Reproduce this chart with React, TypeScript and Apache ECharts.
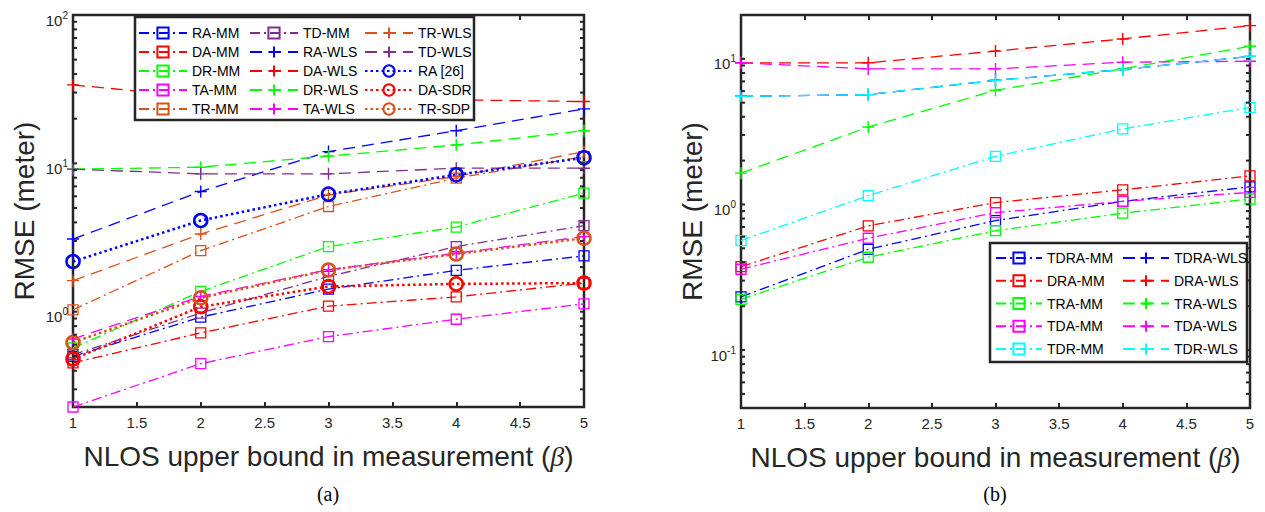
import React, { useEffect, useRef } from 'react';
import * as echarts from 'echarts';

// ---------- data ----------
const BETA = [1, 2, 3, 4, 5];

// (a)
const RA_MM = [0.5, 0.92, 1.42, 1.9, 2.38];
const DA_MM = [0.452, 0.72, 1.09, 1.26, 1.56];
const DR_MM = [0.57, 1.37, 2.75, 3.72, 6.3];
const TA_MM = [0.228, 0.447, 0.68, 0.89, 1.13];
const TR_MM = [1.03, 2.58, 5.12, 7.95, 11.1];
const TD_MM = [0.513, 0.98, 1.73, 2.75, 3.8];
const RA_WLS = [3.09, 6.46, 12.0, 16.6, 23.3];
const DA_WLS = [33.8, 28.0, 27.2, 26.8, 26.1];
const DR_WLS = [9.14, 9.42, 11.2, 13.3, 16.6];
const TA_WLS = [0.655, 1.27, 1.92, 2.48, 3.21];
const TR_WLS = [1.62, 3.34, 6.13, 8.15, 12.0];
const TD_WLS = [9.14, 8.5, 8.5, 9.28, 9.28];
const RA_26 = [2.18, 4.12, 6.2, 8.37, 10.9];
const DA_SDR = [0.48, 1.08, 1.48, 1.54, 1.56];
const TR_SDP = [0.621, 1.24, 1.91, 2.45, 3.13];

// (b)
const TDRA_MM = [0.232, 0.492, 0.775, 1.05, 1.32];
const DRA_MM = [0.374, 0.713, 1.03, 1.26, 1.57];
const TRA_MM = [0.223, 0.434, 0.66, 0.871, 1.09];
const TDA_MM = [0.359, 0.586, 0.879, 1.05, 1.21];
const TDR_MM = [0.565, 1.15, 2.14, 3.3, 4.64];
const TDRA_WLS = [5.53, 5.68, 7.12, 8.44, 10.4];
const DRA_WLS = [9.39, 9.39, 11.3, 13.7, 16.9];
const TRA_WLS = [1.64, 3.4, 6.08, 8.53, 12.2];
const TDA_WLS = [9.39, 8.53, 8.53, 9.48, 9.63];
const TDR_WLS = [5.53, 5.68, 7.12, 8.44, 10.4];

// axes
const X_MIN = 1;
const X_MAX = 5;
const X_STEP = 0.5;
const Y_MIN_A = 0.228;
const Y_MAX_A = 100;
const Y_MIN_B = 0.04;
const Y_MAX_B = 20;
const Y_TICKS_A = [0.3, 0.4, 0.5, 0.6, 0.7, 0.8, 0.9, 1, 2, 3, 4, 5, 6, 7, 8, 9, 10, 20, 30, 40, 50, 60, 70, 80, 90, 100];
const Y_TICKS_B = [0.05, 0.06, 0.07, 0.08, 0.09, 0.1, 0.2, 0.3, 0.4, 0.5, 0.6, 0.7, 0.8, 0.9, 1, 2, 3, 4, 5, 6, 7, 8, 9, 10];

// legend columns
const LEG_A1 = ['RA-MM', 'DA-MM', 'DR-MM', 'TA-MM', 'TR-MM'];
const LEG_A2 = ['TD-MM', 'RA-WLS', 'DA-WLS', 'DR-WLS', 'TA-WLS'];
const LEG_A3 = ['TR-WLS', 'TD-WLS', 'RA [26]', 'DA-SDR', 'TR-SDP'];
const LEG_B1 = ['TDRA-MM', 'DRA-MM', 'TRA-MM', 'TDA-MM', 'TDR-MM'];
const LEG_B2 = ['TDRA-WLS', 'DRA-WLS', 'TRA-WLS', 'TDA-WLS', 'TDR-WLS'];

const BLUE = '#0000FF';
const RED = '#FF0000';
const GREEN = '#00FF00';
const MAGENTA = '#FF00FF';
const ORANGE = '#D95319';
const PURPLE = '#7E2F8E';
const CYAN = '#00FFFF';

type Kind = 'mm' | 'wls' | 'sdp';

const SERIES_A: [string, number[], string, Kind][] = [
  ['RA-MM', RA_MM, BLUE, 'mm'],
  ['DA-MM', DA_MM, RED, 'mm'],
  ['DR-MM', DR_MM, GREEN, 'mm'],
  ['TA-MM', TA_MM, MAGENTA, 'mm'],
  ['TR-MM', TR_MM, ORANGE, 'mm'],
  ['TD-MM', TD_MM, PURPLE, 'mm'],
  ['RA-WLS', RA_WLS, BLUE, 'wls'],
  ['DA-WLS', DA_WLS, RED, 'wls'],
  ['DR-WLS', DR_WLS, GREEN, 'wls'],
  ['TA-WLS', TA_WLS, MAGENTA, 'wls'],
  ['TR-WLS', TR_WLS, ORANGE, 'wls'],
  ['TD-WLS', TD_WLS, PURPLE, 'wls'],
  ['RA [26]', RA_26, BLUE, 'sdp'],
  ['DA-SDR', DA_SDR, RED, 'sdp'],
  ['TR-SDP', TR_SDP, ORANGE, 'sdp'],
];

const SERIES_B: [string, number[], string, Kind][] = [
  ['TDRA-MM', TDRA_MM, BLUE, 'mm'],
  ['DRA-MM', DRA_MM, RED, 'mm'],
  ['TRA-MM', TRA_MM, GREEN, 'mm'],
  ['TDA-MM', TDA_MM, MAGENTA, 'mm'],
  ['TDR-MM', TDR_MM, CYAN, 'mm'],
  ['TDRA-WLS', TDRA_WLS, BLUE, 'wls'],
  ['DRA-WLS', DRA_WLS, RED, 'wls'],
  ['TRA-WLS', TRA_WLS, GREEN, 'wls'],
  ['TDA-WLS', TDA_WLS, MAGENTA, 'wls'],
  ['TDR-WLS', TDR_WLS, CYAN, 'wls'],
];

// ---------- styles ----------
const AX = '#262626';
const FONT = '"Liberation Sans", Arial, Helvetica, sans-serif';
const PLUS = 'path://M5,0 L5,10 M0,5 L10,5';

const KIND_STYLE: Record<Kind, any> = {
  mm: { symbol: 'rect', size: 10, dash: [10, 4, 2, 4], width: 1.3, bw: 1.3 },
  wls: { symbol: PLUS, size: 12, dash: [12, 7], width: 1.3, bw: 1.4 },
  sdp: { symbol: 'circle', size: 13, dash: [2.5, 3], width: 2.5, bw: 2.5 },
};

function makeSeries(spec: [string, number[], string, Kind], gridIdx: number) {
  const [name, vals, color, kind] = spec;
  const k = KIND_STYLE[kind];
  return {
    name,
    type: 'line',
    xAxisIndex: gridIdx * 2,
    yAxisIndex: gridIdx,
    data: BETA.map((b, i) => [b, vals[i]]),
    symbol: k.symbol,
    symbolSize: k.size,
    showSymbol: true,
    showAllSymbol: true,
    lineStyle: { color, width: k.width, type: k.dash, cap: 'butt' },
    itemStyle: { color: 'rgba(0,0,0,0)', borderColor: color, borderWidth: k.bw },
    emphasis: { disabled: true },
    silent: true,
    z: 2,
    clip: false,
  };
}

function isPow10(v: number) {
  const l = Math.log10(v);
  return Math.abs(l - Math.round(l)) < 1e-9;
}

function tickSeries(gridIdx: number, ticks: number[]) {
  return {
    type: 'custom',
    xAxisIndex: gridIdx * 2,
    yAxisIndex: gridIdx,
    silent: true,
    clip: false,
    z: 3,
    data: ticks.map((t) => [X_MIN, t]),
    encode: { x: 0, y: 1 },
    renderItem: (_params: any, api: any) => {
      const v = api.value(1);
      const l = api.coord([X_MIN, v]);
      const r = api.coord([X_MAX, v]);
      const len = 4;
      const children: any[] = [
        { type: 'line', shape: { x1: l[0], y1: l[1], x2: l[0] + len, y2: l[1] }, style: { stroke: AX, lineWidth: 2 } },
        { type: 'line', shape: { x1: r[0] - len, y1: r[1], x2: r[0], y2: r[1] }, style: { stroke: AX, lineWidth: 2 } },
      ];
      if (isPow10(v)) {
        const e = Math.round(Math.log10(v));
        children.push({
          type: 'text',
          x: l[0] - 5,
          y: l[1],
          style: {
            text: `{b|10}{s|${e}}`,
            fill: AX,
            align: 'right',
            verticalAlign: 'middle',
            rich: {
              b: { fontSize: 15, fontFamily: 'Liberation Sans', padding: [10, 0, 0, 0], fill: AX },
              s: { fontSize: 10, fontFamily: 'Liberation Sans', fill: AX },
            },
          },
        });
      }
      return { type: 'group', children };
    },
  };
}

const X_NAME = '{a|NLOS upper bound in measurement (}{b|β}{a|)}';

function xAxes(gridIdx: number) {
  const common = {
    gridIndex: gridIdx,
    type: 'value',
    min: X_MIN,
    max: X_MAX,
    interval: X_STEP,
    splitLine: { show: false },
    axisLine: { show: false },
    axisTick: { show: true, inside: true, length: 5, lineStyle: { color: AX, width: 2 } },
  };
  return [
    {
      ...common,
      position: 'bottom',
      axisLabel: { show: true, fontSize: 15, color: AX, fontFamily: FONT, margin: 8, formatter: (v: number) => String(v) },
      name: X_NAME,
      nameLocation: 'middle',
      nameGap: 35,
      nameTextStyle: {
        color: AX,
        rich: {
          a: { fontSize: 28, fontFamily: FONT, color: AX },
          b: { fontSize: 28, fontFamily: '"Liberation Serif", serif', fontStyle: 'italic', color: AX },
        },
      },
    },
    {
      ...common,
      position: 'top',
      axisLabel: { show: false },
    },
  ];
}

function yAxis(gridIdx: number, min: number, max: number) {
  return {
    gridIndex: gridIdx,
    type: 'log',
    logBase: 10,
    min,
    max,
    splitLine: { show: false },
    axisLine: { show: false },
    axisTick: { show: false },
    axisLabel: { show: false },
    name: 'RMSE (meter)',
    nameLocation: 'middle',
    nameGap: 35,
    nameTextStyle: { fontSize: 28, color: AX, fontFamily: FONT },
  };
}

function legendCol(names: string[], left: number, top: number, gap: number, w: number) {
  return {
    data: names,
    orient: 'vertical',
    left,
    top,
    itemWidth: w,
    itemHeight: 14,
    itemGap: gap,
    padding: 0,
    selectedMode: false,
    z: 8,
    textStyle: { fontSize: 14, color: '#000', fontFamily: FONT },
  };
}

export default function App() {
  const ref = useRef<HTMLDivElement>(null);
  useEffect(() => {
    if (!ref.current) return;
    const chart = echarts.init(ref.current, undefined, { renderer: 'svg' });
    const option: any = {
      animation: false,
      backgroundColor: '#fff',
      grid: [
        { left: 73, top: 15, width: 511, height: 392, show: true, borderColor: AX, borderWidth: 2.5, backgroundColor: 'transparent' },
        { left: 741, top: 15, width: 509, height: 393, show: true, borderColor: AX, borderWidth: 2.5, backgroundColor: 'transparent' },
      ],
      xAxis: [...xAxes(0), ...xAxes(1)],
      yAxis: [yAxis(0, Y_MIN_A, Y_MAX_A), yAxis(1, Y_MIN_B, Y_MAX_B)],
      legend: [
        legendCol(LEG_A1, 138, 26, 5, 48),
        legendCol(LEG_A2, 249, 26, 5, 48),
        legendCol(LEG_A3, 364, 26, 5, 48),
        legendCol(LEG_B1, 995, 251, 8.75, 46),
        legendCol(LEG_B2, 1122, 251, 8.75, 46),
      ],
      graphic: [
        { type: 'rect', z: 7, shape: { x: 135, y: 17, width: 339, height: 103 }, style: { fill: '#fff', stroke: AX, lineWidth: 2.5 } },
        { type: 'rect', z: 7, shape: { x: 990, y: 243, width: 257, height: 119 }, style: { fill: '#fff', stroke: AX, lineWidth: 2.5 } },
        { type: 'text', x: 328, y: 494, style: { text: '(a)', fontSize: 20, fontFamily: '"Liberation Serif", "Times New Roman", serif', fill: '#000', align: 'center', verticalAlign: 'middle' } },
        { type: 'text', x: 995, y: 494, style: { text: '(b)', fontSize: 20, fontFamily: '"Liberation Serif", "Times New Roman", serif', fill: '#000', align: 'center', verticalAlign: 'middle' } },
      ],
      series: [
        ...SERIES_A.map((s) => makeSeries(s, 0)),
        ...SERIES_B.map((s) => makeSeries(s, 1)),
        tickSeries(0, Y_TICKS_A),
        tickSeries(1, Y_TICKS_B),
      ],
    };
    chart.setOption(option);
    return () => chart.dispose();
  }, []);
  return <div ref={ref} style={{ position: 'fixed', left: 0, top: 0, width: 1265, height: 512 }} />;
}
